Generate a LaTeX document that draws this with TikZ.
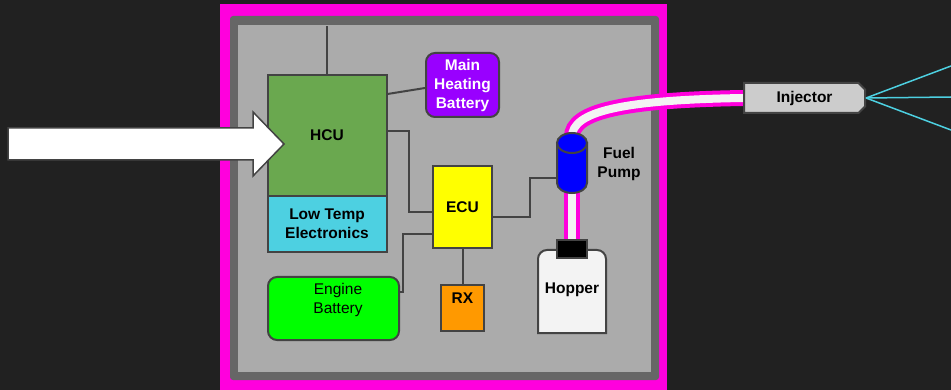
\documentclass[tikz,border=0pt]{standalone}
\usepackage{fontspec}
\setmainfont{Liberation Sans}
\usetikzlibrary{shapes.misc,calc}
\definecolor{bgdark}{HTML}{212121}
\definecolor{framepink}{HTML}{FF00DD}
\definecolor{framegrey}{HTML}{666666}
\definecolor{panelgrey}{HTML}{ABABAB}
\definecolor{edgegrey}{HTML}{434343}
\definecolor{hcugreen}{HTML}{6AA84F}
\definecolor{ltecyan}{HTML}{4DD0E1}
\definecolor{mhbpurple}{HTML}{9900FF}
\definecolor{ecuyellow}{HTML}{FFFF00}
\definecolor{ebatgreen}{HTML}{00FF00}
\definecolor{rxorange}{HTML}{FF9900}
\definecolor{pumpblue}{HTML}{0000FF}
\definecolor{hopperwhite}{HTML}{F3F3F3}
\definecolor{injgrey}{HTML}{CCCCCC}
\newcommand{\boxfont}{\fontsize{15.5}{19}\selectfont\bfseries}
\pgfdeclarelayer{back}
\pgfdeclarelayer{pipes}
\pgfsetlayers{back,pipes,main}
\tikzset{
  % kasten
  box/.style={draw=edgegrey,line width=2pt,inner sep=0pt,align=center,font=\boxfont},
  rbox/.style={box,rounded corners=9pt},
  txt/.style={inner sep=0pt,align=center,font=\boxfont},
  % leitungen
  wire/.style={draw=edgegrey,line width=2pt},
  pipe/.style={draw=framepink,line width=4pt,double=hopperwhite,double distance=8pt},
  spray/.style={draw=ltecyan,line width=1.5pt},
  bigarrow/.style={draw=edgegrey,fill=white,line width=1.5pt,line join=miter},
  pumpbody/.style={draw=edgegrey,fill=pumpblue,line width=2pt},
}
\begin{document}
\begin{tikzpicture}[x=1pt,y=-1pt]
  \useasboundingbox (0,0) rectangle (951,390);
  \begin{pgfonlayer}{back}
  \fill[bgdark] (0,0) rectangle (951,390);
  \fill[framepink] (220,4) rectangle (667,390);
  \fill[framegrey,rounded corners=3pt] (230,16) rectangle (659,380);
  \fill[panelgrey] (238,25) rectangle (651,372);
  \end{pgfonlayer}

  \node[box,fill=hcugreen,minimum width=119pt,minimum height=121pt] (hcu) at (327,135.5) {HCU};
  \node[box,fill=ltecyan,minimum width=119pt,minimum height=56pt] (lte) at (327,224) {Low Temp\\Electronics};
  \node[rbox,fill=mhbpurple,text=white,minimum width=73pt,minimum height=64pt] (mhb) at (462.5,85) {Main\\Heating\\Battery};
  \node[box,fill=ecuyellow,minimum width=59pt,minimum height=82pt] (ecu) at (462.5,207) {ECU};
  \node[rbox,fill=ebatgreen,minimum width=131pt,minimum height=63pt] (ebat) at (333.5,308.5) {};
  \node[txt,font=\boxfont\mdseries] (ebattxt) at (338,300) {Engine\\Battery};
  \node[box,fill=rxorange,minimum width=43pt,minimum height=46pt] (rx) at (462.5,308) {};
  \node[txt] (rxtxt) at (462.5,298.5) {RX};
  \coordinate (hcutop) at (327,26);

  % pumpe und tank
  \filldraw[pumpbody] (557,143) -- (557,183) arc[start angle=180,end angle=0,x radius=15,y radius=10] -- (587,143) -- cycle;
  \filldraw[pumpbody] (572,143) ellipse [x radius=15,y radius=10];
  \node[inner sep=0pt,minimum width=30pt,minimum height=60pt] (pump) at (572,163) {};
  \node[txt] (pumplbl) at (619,164) {Fuel\\Pump};
  \filldraw[draw=edgegrey,fill=hopperwhite,line width=2pt] (538,333) [rounded corners=9pt] -- (538,250) -- (606,250) [sharp corners] -- (606,333) -- cycle;
  \node[txt] (hopper) at (572,290) {Hopper};
  \node[box,fill=black,minimum width=30pt,minimum height=18pt] (cap) at (572,249) {};
  \node[box,fill=injgrey,chamfered rectangle,chamfered rectangle corners={north east,south east},
        chamfered rectangle xsep=3pt,minimum width=121pt,minimum height=30pt] (inj) at (804.5,98) {Injector};
  \coordinate (sprayup) at (951,66);
  \coordinate (spraymid) at (951,97);
  \coordinate (spraydown) at (951,130);

  \begin{pgfonlayer}{pipes}
  \draw[pipe] ([yshift=-4pt]pump.north) .. controls (572,112) and (620,100) .. (inj.west);
  \draw[pipe] (pump.south) -- (cap.north);
  \end{pgfonlayer}

  \draw[wire] (hcu.north) -- (hcutop);
  \draw[wire] (hcu.east |- 0,94) -- (mhb.west |- 0,88);
  \draw[wire] (hcu.east |- 0,131) -| (409,212) -- (ecu.west |- 0,212);
  \draw[wire] (ecu.west |- 0,234) -| (403,292) -- (ebat.east |- 0,292);
  \draw[wire] (ecu) -- (rx);
  \draw[wire] (ecu.east |- 0,217) -| (530,178) -- (pump.west |- 0,178);
  \draw[spray] (inj.east) -- (sprayup);
  \draw[spray] (inj.east) -- (spraymid);
  \draw[spray] (inj.east) -- (spraydown);

  \filldraw[bigarrow] (8,128) -- (253,128) -- (253,112) -- (284,144) -- (253,176) -- (253,160) -- (8,160) -- cycle;
\end{tikzpicture}
\end{document}
